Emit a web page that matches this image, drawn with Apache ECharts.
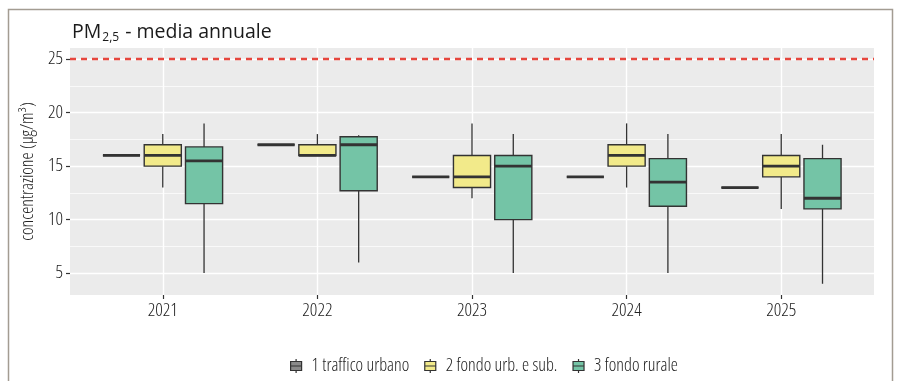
<!DOCTYPE html>
<html>
<head>
<meta charset="utf-8">
<script src="https://cdn.jsdelivr.net/npm/echarts@6/dist/echarts.min.js"></script>
<style>
  html, body { margin: 0; padding: 0; background: #ffffff; }
  #chart { width: 900px; height: 381px; }
</style>
</head>
<body>
<div id="chart"></div>
<script>
// Anni (categorie dell'asse x)
const years = ['2021', '2022', '2023', '2024', '2025'];

// Statistiche per anno: [min, Q1, mediana, Q3, max] in µg/m³
const trafficoUrbano = [
  [16, 16, 16, 16, 16],
  [17, 17, 17, 17, 17],
  [14, 14, 14, 14, 14],
  [14, 14, 14, 14, 14],
  [13, 13, 13, 13, 13]
];
const fondoUrbSub = [
  [13, 15, 16, 17, 18],
  [16, 16, 16, 17, 18],
  [12, 13, 14, 16, 19],
  [13, 15, 16, 17, 19],
  [11, 14, 15, 16, 18]
];
const fondoRurale = [
  [5, 11.5, 15.5, 16.8, 19],
  [6, 12.7, 17, 17.75, 17.9],
  [5, 10, 15, 16, 18],
  [5, 11.25, 13.5, 15.7, 18],
  [4, 11, 12, 15.7, 17]
];

// Valore limite annuale
const limiteAnnuale = 25;

// Etichette degli assi
const yTicks = [5, 10, 15, 20, 25];
const yMinorTicks = [7.5, 12.5, 17.5, 22.5];
const xTicks = [1, 2, 3, 4, 5];

const seriesNames = ['1 traffico urbano', '2 fondo urb. e sub.', '3 fondo rurale'];
const fills = ['#8a8a8a', '#f2ea8a', '#74c4a6'];
const dodge = [-0.267, 0, 0.267];
const boxWidth = 0.24;
const ink = '#333333';
const narrowFamily = '"Open Sans", "Roboto", sans-serif';
function narrow(size) {
  return { fontStyle: 'condensed', fontWeight: 300, fontFamily: narrowFamily, fontSize: size };
}

function boxRenderer(offset, fill) {
  return function (params, api) {
    const x = api.value(0) + offset;
    const lo = api.coord([x, api.value(1)]);
    const q1 = api.coord([x, api.value(2)]);
    const med = api.coord([x, api.value(3)]);
    const q3 = api.coord([x, api.value(4)]);
    const hi = api.coord([x, api.value(5)]);
    const w = api.size([boxWidth, 0])[0];
    const cx = lo[0];
    const thin = { stroke: ink, lineWidth: 1.3 };
    return {
      type: 'group',
      children: [
        { type: 'line', shape: { x1: cx, y1: hi[1], x2: cx, y2: q3[1] }, style: thin },
        { type: 'line', shape: { x1: cx, y1: q1[1], x2: cx, y2: lo[1] }, style: thin },
        { type: 'rect', shape: { x: cx - w / 2, y: q3[1], width: w, height: q1[1] - q3[1] },
          style: { fill: fill, stroke: ink, lineWidth: 1.4 } },
        { type: 'line', shape: { x1: cx - w / 2, y1: med[1], x2: cx + w / 2, y2: med[1] },
          style: { stroke: ink, lineWidth: 2.8 } }
      ]
    };
  };
}

const groups = [trafficoUrbano, fondoUrbSub, fondoRurale];

const series = groups.map(function (stats, k) {
  return {
    name: seriesNames[k],
    type: 'custom',
    xAxisIndex: 0,
    yAxisIndex: 0,
    itemStyle: { color: fills[k] },
    renderItem: boxRenderer(dodge[k], fills[k]),
    encode: { x: 0, y: [1, 2, 3, 4, 5] },
    data: stats.map(function (row, i) { return [i + 1].concat(row); }),
    z: 3
  };
});

// Linea tratteggiata del valore limite
series.push({
  name: 'limite',
  type: 'line',
  data: [],
  silent: true,
  markLine: {
    silent: true,
    symbol: 'none',
    label: { show: false },
    lineStyle: { color: '#e6463d', width: 2.4, type: [6, 5] },
    data: [{ yAxis: limiteAnnuale }]
  },
  z: 2
});

// Simbolo della legenda: scatola con mediana e baffi
const boxIcon = 'path://M0,2.5H11V11.5H0ZM0,7H11M5.5,0V2.5M5.5,11.5V14';

const titleFont = '"Open Sans", "Noto Sans", sans-serif';

const option = {
  animation: false,
  backgroundColor: '#ffffff',
  title: {
    left: 67,
    top: 15,
    text: '{a|PM}{b|2,5}{a| - media annuale}',
    textStyle: {
      fontWeight: 'normal',
      rich: {
        a: { fontFamily: titleFont, fontWeight: 'normal', fontSize: 19.5, color: '#1a1a1a' },
        b: { fontFamily: titleFont, fontWeight: 'normal', fontSize: 12, color: '#1a1a1a', padding: [12, 1, 0, 1] }
      }
    }
  },
  graphic: [{
    type: 'rect',
    silent: true,
    shape: { x: 8.5, y: 9.5, width: 884, height: 420 },
    style: { fill: 'none', stroke: '#a39c92', lineWidth: 1.5 },
    z: 0
  }],
  legend: {
    left: 285,
    top: 352,
    itemWidth: 11,
    itemHeight: 14,
    itemGap: 15,
    textStyle: Object.assign({ color: '#222222', padding: [0, 0, 0, 5] }, narrow(18)),
    data: seriesNames.map(function (n, k) {
      return { name: n, icon: boxIcon, itemStyle: { color: fills[k], borderColor: ink, borderWidth: 1.2 } };
    })
  },
  grid: {
    left: 70, right: 26, top: 48, bottom: 86,
    show: true, backgroundColor: '#ebebeb', borderWidth: 0
  },
  xAxis: {
    type: 'value',
    min: 0.4,
    max: 5.6,
    axisLine: { show: false },
    axisTick: { show: true, customValues: xTicks, length: 4, lineStyle: { color: ink, width: 1.2 } },
    axisLabel: Object.assign({
      customValues: xTicks,
      formatter: function (v) { return years[Math.round(v) - 1]; },
      color: '#222222', margin: 6
    }, narrow(18.5)),
    splitLine: { show: true, lineStyle: { color: '#ffffff', width: 1.4 } }
  },
  yAxis: [{
    type: 'value',
    min: 2.95,
    max: 26.05,
    name: 'concentrazione (µg/m³)',
    nameLocation: 'middle',
    nameGap: 30,
    nameRotate: 90,
    nameTextStyle: Object.assign({ color: '#222222' }, narrow(18)),
    axisLine: { show: false },
    axisTick: { show: true, customValues: yTicks, length: 4, lineStyle: { color: ink, width: 1.2 } },
    axisLabel: Object.assign({ customValues: yTicks, color: '#222222', margin: 7 }, narrow(18.5)),
    splitLine: { show: true, lineStyle: { color: '#ffffff', width: 1.4 } }
  }, {
    type: 'value',
    min: 2.95,
    max: 26.05,
    position: 'left',
    axisLine: { show: false },
    axisTick: { show: false, customValues: yMinorTicks },
    axisLabel: { show: false, customValues: yMinorTicks },
    splitLine: { show: true, lineStyle: { color: '#ffffff', width: 0.7 } }
  }],
  series: series
};

const chart = echarts.init(document.getElementById('chart'), null, { renderer: 'canvas' });
chart.setOption(option);
</script>
</body>
</html>
